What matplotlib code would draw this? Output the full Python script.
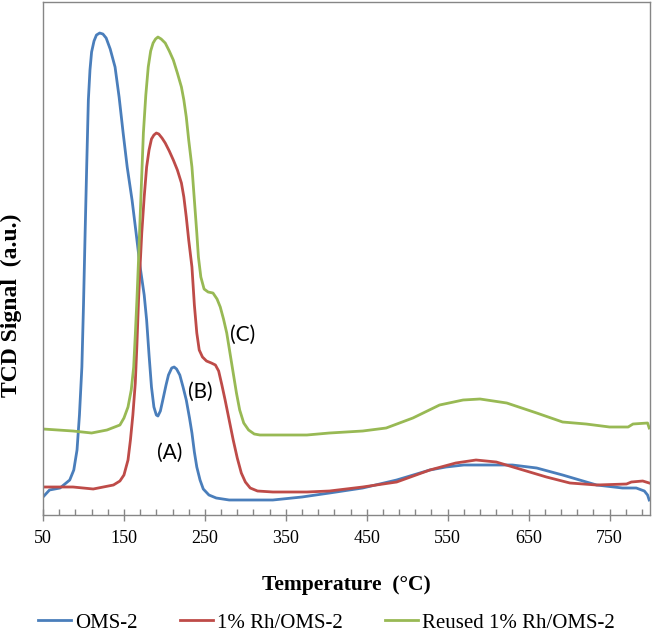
import matplotlib.pyplot as plt

# temperature (C) / signal (a.u.)
oms_t = [50, 58, 71, 83, 88, 92, 95, 98, 100, 102, 104, 106, 108, 110, 113, 116, 120, 124,
         128, 133, 139, 144, 149, 154, 160, 165, 170, 175, 178, 181, 184, 187, 190, 192,
         195, 198, 202, 205, 209, 212, 215, 219, 223, 227, 231, 234, 237, 240, 244, 248,
         255, 264, 280, 300, 334, 370, 404, 445, 487, 528, 548, 570, 590, 630, 660, 692,
         734, 766, 783, 793, 797, 799]
oms_y = [18, 25, 27, 35, 45, 65, 100, 148, 210, 282, 350, 415, 445, 463, 474, 480, 482, 481,
         477, 466, 448, 418, 382, 348, 315, 282, 248, 220, 195, 160, 128, 108, 100, 99,
         104, 115, 130, 140, 147, 148, 146, 140, 128, 115, 97, 82, 63, 48, 35, 26,
         20, 17, 15, 15, 15, 18, 22, 27, 35, 45, 48, 50, 50, 50, 47, 40,
         30, 27, 27, 24, 20, 15]

rh_t = [50, 87, 112, 137, 145, 150, 155, 158, 161, 164, 166, 168, 170, 172, 175, 178, 181,
        184, 187, 190, 193, 197, 201, 206, 211, 216, 221, 224, 227, 230, 234, 237, 240,
        243, 247, 252, 258, 263, 267, 271, 275, 280, 285, 290, 295, 300, 306, 315, 334,
        376, 404, 445, 487, 528, 560, 585, 610, 643, 672, 701, 734, 771, 777, 791, 799]
rh_y = [28, 28, 26, 30, 34, 40, 55, 75, 100, 132, 170, 215, 250, 282, 318, 348, 365,
        376, 380, 382, 381, 377, 372, 364, 355, 345, 332, 318, 298, 275, 248, 210, 182,
        165, 158, 154, 152, 150, 144, 130, 115, 95, 75, 57, 42, 33, 27, 24, 23,
        23, 24, 28, 33, 45, 52, 55, 53, 45, 38, 32, 30, 31, 33, 34, 32]

reused_t = [50, 87, 110, 129, 145, 150, 155, 159, 162, 164, 166, 168, 170, 172, 174, 177,
            180, 183, 186, 189, 192, 196, 201, 206, 211, 216, 221, 224, 227, 230, 234,
            237, 240, 242, 245, 249, 254, 260, 265, 269, 273, 277, 281, 285, 289, 293,
            298, 304, 311, 318, 376, 404, 445, 474, 507, 540, 569, 590, 623, 660, 692,
            721, 750, 773, 779, 797, 799]
reused_y = [86, 84, 82, 85, 90, 97, 108, 125, 148, 180, 215, 255, 298, 340, 382, 420,
            448, 464, 472, 476, 478, 476, 472, 464, 455, 442, 428, 415, 398, 375, 348,
            315, 282, 258, 238, 226, 223, 222, 216, 208, 196, 182, 162, 142, 122, 105,
            92, 85, 81, 80, 80, 82, 84, 87, 97, 110, 115, 116, 112, 102, 93,
            91, 88, 88, 91, 92, 87]

labels = ['OMS-2', '1% Rh/OMS-2', 'Reused 1% Rh/OMS-2']
colors = ['#4A7EBB', '#BE4B48', '#98B954']

notes = ['(A)', '(B)', '(C)']
note_t = [207, 244, 297]
note_y = [62, 123, 180]

plt.rcParams['font.family'] = ['Liberation Serif', 'DejaVu Serif']

fig = plt.figure(figsize=(6.53, 6.34), dpi=100)
ax = fig.add_axes([0.0659, 0.1877, 0.9295, 0.8091])

ax.plot(oms_t, oms_y, color=colors[0], lw=2, label=labels[0])
ax.plot(rh_t, rh_y, color=colors[1], lw=2, label=labels[1])
ax.plot(reused_t, reused_y, color=colors[2], lw=2, label=labels[2])

for txt, t, y in zip(notes, note_t, note_y):
    ax.text(t, y, txt, fontsize=15, ha='center', va='center', family=['Lato', 'DejaVu Sans'])

ax.set_xlim(50, 800)
ax.set_ylim(0, 513)
ax.set_xticks(range(50, 800, 100))
ax.set_xticks(range(50, 801, 20), minor=True)
ax.tick_params(axis='x', which='major', direction='inout', length=8, width=1, color='#868686',
               labelsize=13, pad=7)
ax.tick_params(axis='x', which='minor', direction='in', length=4, width=1, color='#868686')
ax.set_yticks([])
for s in ax.spines.values():
    s.set_color('#868686')
    s.set_linewidth(1)

ax.set_xlabel('Temperature  (°C)', fontsize=15.5, fontweight='bold', labelpad=20)
ax.set_ylabel('TCD Signal  (a.u.)', fontsize=17, fontweight='bold')
ax.yaxis.set_label_coords(-0.035, 0.409)

fig.legend(loc='center', bbox_to_anchor=(0.5, 0.0174), ncol=3, frameon=False,
           fontsize=15, handlelength=1.6, handletextpad=0.2, columnspacing=2.0)

fig.savefig('out.png', dpi=100)
